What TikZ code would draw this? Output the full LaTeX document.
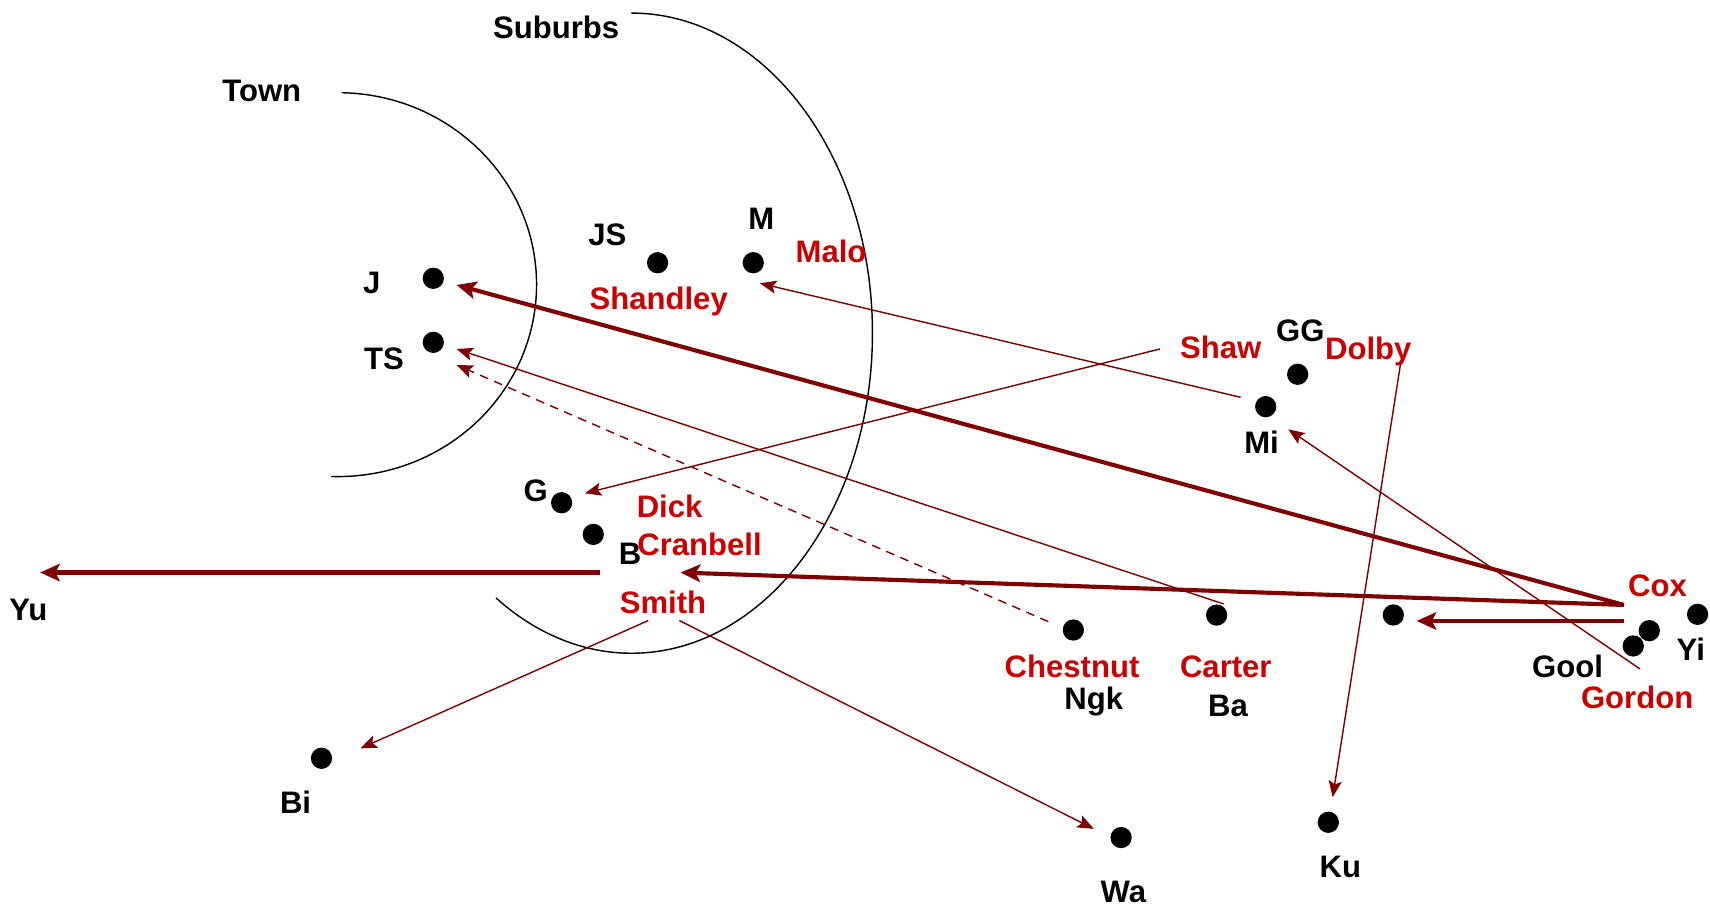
\documentclass[tikz,border=0pt]{standalone}
\usepackage{fontspec}
\setmainfont{Liberation Sans}
\usetikzlibrary{arrows.meta}
\definecolor{arrred}{RGB}{128,0,0}
\definecolor{namered}{RGB}{204,0,0}
\begin{document}
\begin{tikzpicture}[x=1pt,y=-1pt]
\tikzstyle{every node}=[font=\fontsize{28.5}{30}\selectfont\bfseries]
\tikzstyle{dot}=[circle,fill=black,inner sep=0pt,minimum size=19.5pt]
\tikzstyle{lbl}=[anchor=base,inner sep=0pt]
\tikzstyle{who}=[lbl,text=namered]
\tikzstyle{link}=[draw=arrred,line width=1.3pt,-{Stealth[length=15pt,width=12pt,inset=3pt]}]
\tikzstyle{biglink}=[draw=arrred,line width=3.8pt,-{Stealth[length=18pt,width=16pt,inset=4pt]}]
\useasboundingbox (0,0) rectangle (1568,834);
% the two areas
\draw[line width=1.3pt] (310,261) ++(-89:182 and 176) arc[start angle=-89,end angle=92,x radius=182,y radius=176];
\draw[line width=1.3pt] (579,305.5) ++(-90:221 and 293.5) arc[start angle=-90,end angle=124.2,x radius=221,y radius=293.5];
\node[lbl] (town) at (240,93.5) {Town};
\node[lbl] (sub) at (510,35.5) {Suburbs};
% places
\node[dot] (j) at (397.3,255.2) {};
\node[dot] (ts) at (397.3,313.9) {};
\node[dot] (js) at (603,240.9) {};
\node[dot] (m) at (690.7,240.9) {};
\node[dot] (gg) at (1189.9,343.2) {};
\node[dot] (mi) at (1160.6,372.9) {};
\node[dot] (g) at (515,461) {};
\node[dot] (b) at (544,490) {};
\node[dot] (ngk) at (984.2,577.7) {};
\node[dot] (ba) at (1115.6,564) {};
\node[dot] (nn) at (1277.6,563.9) {};
\node[dot] (yi) at (1556.6,563.3) {};
\node[dot] (goola) at (1512.3,578.3) {};
\node[dot] (goolb) at (1497.6,592.3) {};
\node[dot] (bi) at (294.8,695.3) {};
\node[dot] (wa) at (1028,768) {};
\node[dot] (ku) at (1218,754) {};
\node[lbl] (tj) at (341,269) {J};
\node[lbl] (tts) at (352,339) {TS};
\node[lbl] (tjs) at (557,225.5) {JS};
\node[lbl] (tm) at (698,210.5) {M};
\node[lbl] (tgg) at (1192.3,313.3) {GG};
\node[lbl] (tmi) at (1156.8,415.7) {Mi};
\node[lbl] (tg) at (491.3,460) {G};
\node[lbl] (tb) at (577.7,518) {B};
\node[lbl] (tyu) at (26,569) {Yu};
\node[lbl] (tngk) at (1003,650.5) {Ngk};
\node[lbl] (tba) at (1126,657) {Ba};
\node[lbl] (tyi) at (1550.4,606) {Yi};
\node[lbl] (tgool) at (1437.3,621) {Gool};
\node[lbl] (tbi) at (271,745.5) {Bi};
\node[lbl] (twa) at (1030,828) {Wa};
\node[lbl] (tku) at (1229,804.5) {Ku};
% people
\node[who] (malo) at (762,241) {Malo};
\node[who] (shandley) at (604,284) {Shandley};
\node[who] (shaw) at (1119.4,328.6) {Shaw};
\node[who] (dolby) at (1254.7,329.5) {Dolby};
\node[who] (dick) at (614,474.4) {Dick};
\node[who] (cranbell) at (641.4,509.8) {Cranbell};
\node[who] (smith) at (607.9,562.4) {Smith};
\node[who] (chestnut) at (983,621.5) {Chestnut};
\node[who] (carter) at (1124,621.5) {Carter};
\node[who] (cox) at (1519.8,547) {Cox};
\node[who] (gordon) at (1501.2,649.5) {Gordon};
% arrow ends
\coordinate (coxa) at (1489,554.7);
\coordinate (coxb) at (1489,569.4);
\coordinate (toj) at (418.7,261.3);
\coordinate (tocran) at (624,525);
\coordinate (fromb) at (550,525);
\coordinate (toyu) at (36.8,525);
\coordinate (tonn) at (1299,569.4);
\coordinate (frommi) at (1137.6,364.3);
\coordinate (tom) at (696.9,259.8);
\coordinate (fromshaw) at (1063.6,320);
\coordinate (tog) at (536.4,452.3);
\coordinate (fromba) at (1122,553.8);
\coordinate (tots) at (418.7,320);
\coordinate (fromngk) at (961.3,570);
\coordinate (totsb) at (418.7,334.7);
\coordinate (fromdolby) at (1284.3,333.1);
\coordinate (toku) at (1222,731);
\coordinate (fromgordon) at (1503.8,613.4);
\coordinate (tomi) at (1181.3,393.7);
\coordinate (smitha) at (594.5,569);
\coordinate (smithb) at (622.9,569);
\coordinate (tobi) at (330.6,686.2);
\coordinate (towa) at (1003,760);
% moves
\path[biglink] (coxa) -- (toj);
\path[biglink] (coxa) -- (tocran);
\path[biglink] (fromb) -- (toyu);
\path[biglink] (coxb) -- (tonn);
\path[link] (frommi) -- (tom);
\path[link] (fromshaw) -- (tog);
\path[link] (fromba) -- (tots);
\path[link,dash pattern=on 8pt off 6pt] (fromngk) -- (totsb);
\path[link] (fromdolby) -- (toku);
\path[link] (fromgordon) -- (tomi);
\path[link] (smitha) -- (tobi);
\path[link] (smithb) -- (towa);
\end{tikzpicture}
\end{document}
